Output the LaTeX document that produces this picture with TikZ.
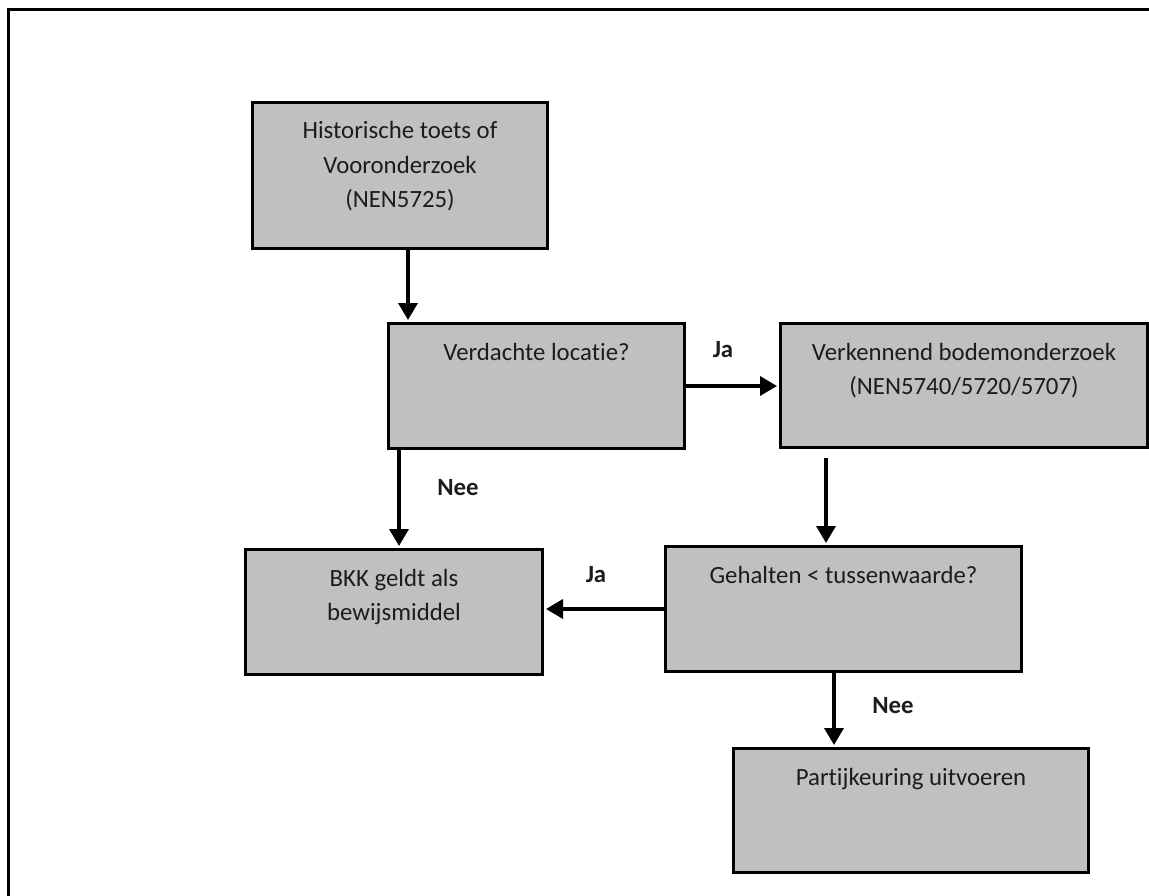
\documentclass[tikz,border=0pt]{standalone}
\usepackage{fontspec}
\setmainfont{Carlito}[Ligatures=NoCommon]
\usepackage{tikz}
\usetikzlibrary{arrows.meta}

\definecolor{boxgray}{HTML}{C0C0C0}
\definecolor{inkgray}{HTML}{1C1C1C}

% box text: width, height, lines (top aligned)
\newcommand{\flowtext}[3]{\parbox[c][#2][t]{#1}{\centering\rule{0pt}{36.5pt}#3}}

\begin{document}
\begin{tikzpicture}[x=1pt, y=-1pt,
    font=\fontsize{24.8}{34.5}\selectfont,
    flowbox/.style={draw, fill=boxgray, line width=3pt, inner sep=0pt, anchor=north west, text=inkgray},
    flowarrow/.style={line width=3.5pt, -{Triangle[width=19pt,length=17pt]}, shorten >=2pt},
    answer/.style={font=\fontsize{24.8}{34.5}\selectfont\bfseries, text=inkgray, anchor=base}]
    \useasboundingbox (0,0) rectangle (1149,896);

    % Draw frame (only top and left edge are inside the page)
    \draw[line width=3pt] (8.7,896) -- (8.7,9.7) -- (1149,9.7);

    % Boxes
    \node[flowbox] (hist) at (251,101) {\flowtext{295pt}{146pt}{Historische toets of\\Vooronderzoek\\(NEN5725)}};
    \node[flowbox] (verd) at (387,322) {\flowtext{296pt}{125pt}{Verdachte locatie?}};
    \node[flowbox] (verk) at (779,322) {\flowtext{367pt}{124pt}{Verkennend bodemonderzoek\\(NEN5740/5720/5707)}};
    \node[flowbox] (bkk) at (244,548) {\flowtext{297pt}{125pt}{BKK geldt als\\bewijsmiddel}};
    \node[flowbox] (geh) at (664,545) {\flowtext{356pt}{125pt}{Gehalten < tussenwaarde?}};
    \node[flowbox] (part) at (732,747) {\flowtext{355pt}{124pt}{Partijkeuring uitvoeren}};

    % Arrows between the boxes
    \draw[flowarrow] (hist.south -| 408,0) -- (verd.north -| 408,0);
    \draw[flowarrow] (verd.east) -- (verk.west |- verd.east);
    \draw[flowarrow] (verd.south -| 399,0) -- (bkk.north -| 399,0);
    \draw[flowarrow] (verk.south -| 826,0) ++(0,9) -- (geh.north -| 826,0);
    \draw[flowarrow] (geh.west) -- (bkk.east |- geh.west);
    \draw[flowarrow] (geh.south -| 834,0) -- (part.north -| 834,0);

    % Answers
    \node[answer] (javerk) at (723,357) {Ja};
    \node[answer] (neebkk) at (458,495) {Nee};
    \node[answer] (jabkk) at (596,582) {Ja};
    \node[answer] (neepart) at (893,713) {Nee};

\end{tikzpicture}
\end{document}
